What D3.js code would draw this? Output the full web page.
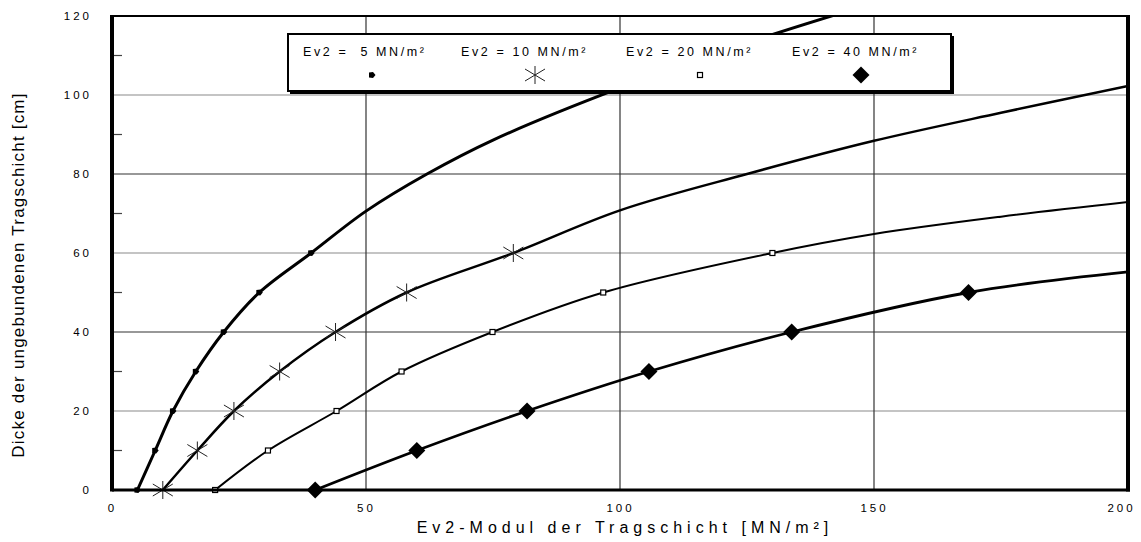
<!DOCTYPE html>
<html>
<head>
<meta charset="utf-8">
<script src="https://cdn.jsdelivr.net/npm/d3@7"></script>
<style>
  body { margin: 0; background: #fff; }
  svg { display: block; font-family: "Liberation Sans", Arial, sans-serif; }
</style>
</head>
<body>
<div id="chart"></div>
<script>
const MARGIN = { TOP: 16, LEFT: 112 }
const WIDTH = 1016
const HEIGHT = 474

// series names (legend)
const seriesNames = ['Ev2 =  5 MN/m²', 'Ev2 = 10 MN/m²', 'Ev2 = 20 MN/m²', 'Ev2 = 40 MN/m²']

// Ev2 of the base layer (x) and thickness in cm (y)
const ev2_5 = [[5, 0], [8.5, 10], [12, 20], [16.5, 30], [22, 40], [29, 50], [39.2, 60],
  [50, 70.6], [62, 80], [75, 88.6], [100, 101.8], [125, 113.2], [150, 123.3]]
const ev2_10 = [[10, 0], [16.8, 10], [24, 20], [33, 30], [44, 40], [58, 50], [79, 60],
  [100, 70.8], [125, 80], [150, 88.4], [175, 95.5], [200, 102.3]]
const ev2_20 = [[20.3, 0], [30.7, 10], [44.2, 20], [57, 30], [74.9, 40], [96.7, 50], [130, 60],
  [150, 64.8], [175, 69.2], [200, 72.9]]
const ev2_40 = [[40, 0], [60, 10], [81.7, 20], [105.7, 30], [133.8, 40], [168.6, 50], [200, 55.2]]

// how many leading points of each series carry a marker
const markedPoints = [7, 7, 7, 6]

const xTicks = [0, 50, 100, 150, 200]
const yTicks = [0, 20, 40, 60, 80, 100, 120]
const yMinorTicks = [10, 30, 50, 70, 90, 110]

const series = [ev2_5, ev2_10, ev2_20, ev2_40]
const markerTypes = ['dot', 'asterisk', 'square', 'diamond']
const lineWidths = [3, 2.5, 2, 2.8]

const svg = d3.select('#chart')
  .append('svg')
  .attr('width', 1141)
  .attr('height', 542)

const g = svg.append('g')
  .attr('transform', `translate(${MARGIN.LEFT}, ${MARGIN.TOP})`)

const x = d3.scaleLinear().domain([0, 200]).range([0, WIDTH])
const y = d3.scaleLinear().domain([0, 120]).range([HEIGHT, 0])

svg.append('defs').append('clipPath')
  .attr('id', 'plot-clip')
  .append('rect')
  .attr('x', 0).attr('y', 0)
  .attr('width', WIDTH).attr('height', HEIGHT)

// horizontal gridlines
g.append('g')
  .selectAll('line')
  .data(yTicks.filter(d => d > 0 && d < 120))
  .enter().append('line')
  .attr('x1', 0).attr('x2', WIDTH)
  .attr('y1', d => y(d)).attr('y2', d => y(d))
  .attr('stroke', d => (d / 20) % 2 === 1 ? '#8a8a8a' : '#333')
  .attr('stroke-width', 1.2)

// vertical gridlines
g.append('g')
  .selectAll('line')
  .data(xTicks.filter(d => d > 0 && d < 200))
  .enter().append('line')
  .attr('x1', d => x(d)).attr('x2', d => x(d))
  .attr('y1', 0).attr('y2', HEIGHT)
  .attr('stroke', '#333')
  .attr('stroke-width', 1.2)

// minor ticks on the y axis
g.append('g')
  .selectAll('line')
  .data(yMinorTicks)
  .enter().append('line')
  .attr('x1', 0).attr('x2', 10)
  .attr('y1', d => y(d)).attr('y2', d => y(d))
  .attr('stroke', '#444')
  .attr('stroke-width', 1.2)

// axes (labels only)
const xAxis = g.append('g')
  .attr('transform', `translate(0, ${HEIGHT})`)
  .call(d3.axisBottom(x).tickValues(xTicks).tickSize(0).tickPadding(14).tickFormat(d3.format('d')))
const yAxis = g.append('g')
  .call(d3.axisLeft(y).tickValues(yTicks).tickSize(0).tickPadding(20).tickFormat(d3.format('d')))

;[xAxis, yAxis].forEach(a => {
  a.select('.domain').remove()
  a.selectAll('text')
    .attr('font-family', '"Liberation Sans", Arial, sans-serif')
    .attr('font-size', 11.5)
    .attr('letter-spacing', 3)
    .attr('fill', '#000')
})
// keep the last x label inside the picture
xAxis.selectAll('text').filter(d => d === 200).attr('dx', -7)

// curves
const line = d3.line()
  .x(d => x(d[0]))
  .y(d => y(d[1]))
  .curve(d3.curveCatmullRom.alpha(0.5))

const plot = g.append('g').attr('clip-path', 'url(#plot-clip)')

series.forEach((s, i) => {
  plot.append('path')
    .datum(s)
    .attr('d', line)
    .attr('fill', 'none')
    .attr('stroke', '#000')
    .attr('stroke-width', lineWidths[i])
    .attr('stroke-linejoin', 'round')
})

function drawMarker(sel, type) {
  if (type === 'dot') {
    sel.append('path').attr('d', 'M-3,-2.5L1,-3L3.5,0L1,3L-3,2.5Z').attr('fill', '#000')
  } else if (type === 'asterisk') {
    const a = sel.append('g').attr('stroke', '#222').attr('stroke-width', 1)
    a.append('line').attr('x1', 0).attr('x2', 0).attr('y1', -9).attr('y2', 9)
    a.append('line').attr('x1', -10).attr('x2', 10).attr('y1', -6).attr('y2', 6)
    a.append('line').attr('x1', -10).attr('x2', 10).attr('y1', 6).attr('y2', -6)
  } else if (type === 'square') {
    sel.append('rect').attr('x', -2.5).attr('y', -2.5).attr('width', 5).attr('height', 5)
      .attr('fill', '#fff').attr('stroke', '#000').attr('stroke-width', 1.2)
  } else if (type === 'diamond') {
    sel.append('path').attr('d', 'M0,-8.5L8.5,0L0,8.5L-8.5,0Z').attr('fill', '#000')
  }
}

series.forEach((s, i) => {
  g.append('g')
    .selectAll('g')
    .data(s.slice(0, markedPoints[i]))
    .enter().append('g')
    .attr('transform', d => `translate(${x(d[0])}, ${y(d[1])})`)
    .each(function () { drawMarker(d3.select(this), markerTypes[i]) })
})

// plot frame
g.append('line').attr('x1', 0).attr('x2', WIDTH).attr('y1', 0).attr('y2', 0)
  .attr('stroke', '#000').attr('stroke-width', 2)
g.append('line').attr('x1', 0).attr('x2', WIDTH + 2).attr('y1', HEIGHT).attr('y2', HEIGHT)
  .attr('stroke', '#000').attr('stroke-width', 3)
g.append('line').attr('x1', 0).attr('x2', 0).attr('y1', -1).attr('y2', HEIGHT + 1.5)
  .attr('stroke', '#000').attr('stroke-width', 4)
g.append('line').attr('x1', WIDTH).attr('x2', WIDTH).attr('y1', -1).attr('y2', HEIGHT + 1.5)
  .attr('stroke', '#000').attr('stroke-width', 4)

// legend
const legend = svg.append('g')
legend.append('rect')
  .attr('x', 290).attr('y', 36).attr('width', 664).attr('height', 58)
  .attr('fill', '#000')
legend.append('rect')
  .attr('x', 288).attr('y', 34).attr('width', 663).attr('height', 57)
  .attr('fill', '#fff').attr('stroke', '#000').attr('stroke-width', 2)

const legendTextX = [303, 461, 626, 792]
const legendMarkX = [372, 535, 700, 861]
seriesNames.forEach((name, i) => {
  legend.append('text')
    .attr('x', legendTextX[i]).attr('y', 56)
    .attr('font-size', 12.5)
    .attr('letter-spacing', 2.6)
    .style('white-space', 'pre')
    .text(name)
  const m = legend.append('g').attr('transform', `translate(${legendMarkX[i]}, 75)`)
  drawMarker(m, markerTypes[i])
})

// axis titles
svg.append('text')
  .attr('x', 625).attr('y', 533)
  .attr('text-anchor', 'middle')
  .attr('font-size', 16)
  .attr('letter-spacing', 5)
  .text('Ev2-Modul der Tragschicht [MN/m²]')

svg.append('text')
  .attr('transform', 'translate(24, 275) rotate(-90)')
  .attr('text-anchor', 'middle')
  .attr('font-size', 17)
  .attr('letter-spacing', 1.2)
  .text('Dicke der ungebundenen Tragschicht [cm]')
</script>
</body>
</html>
